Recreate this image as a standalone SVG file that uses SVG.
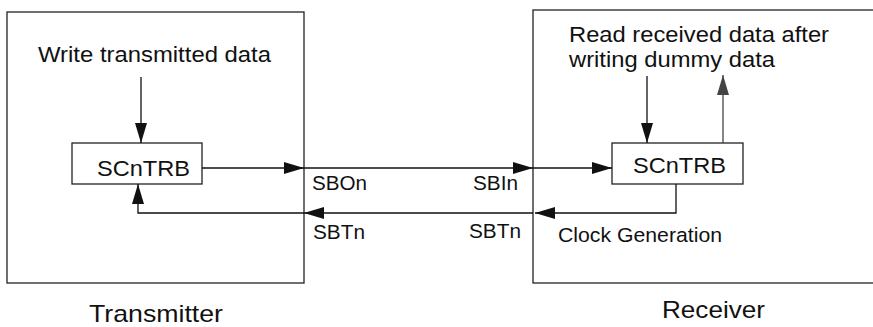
<svg xmlns="http://www.w3.org/2000/svg" width="873" height="327" viewBox="0 0 873 327">
<style>
.t{font-family:"Liberation Sans",Arial,sans-serif;fill:#111;}
.box{fill:none;stroke:#222;stroke-width:1.3;}
.ln{fill:none;stroke:#111;stroke-width:1.3;}
.gl{fill:none;stroke:#444;stroke-width:1.3;}
</style>
<defs>
<marker id="ah" markerUnits="userSpaceOnUse" markerWidth="22" markerHeight="12" refX="20" refY="6" orient="auto">
<path d="M0,0 L20,6 L0,12 Z" fill="#111"/>
</marker>
<marker id="ahg" markerUnits="userSpaceOnUse" markerWidth="22" markerHeight="12" refX="20" refY="6" orient="auto">
<path d="M0,0 L20,6 L0,12 Z" fill="#444"/>
</marker>
</defs>
<rect width="873" height="327" fill="#fff"/>
<g id="transmitter">
<rect class="box" x="7" y="12" width="297" height="271"/>
<text class="t" x="89" y="322" font-size="24" textLength="134" lengthAdjust="spacingAndGlyphs">Transmitter</text>
</g>
<g id="receiver">
<rect class="box" x="533" y="10" width="360" height="273"/>
<text class="t" x="662" y="318" font-size="24" textLength="103" lengthAdjust="spacingAndGlyphs">Receiver</text>
</g>
<g id="write-label">
<text class="t" x="38" y="62" font-size="22.5" textLength="233" lengthAdjust="spacingAndGlyphs">Write transmitted data</text>
</g>
<g id="read-label">
<text class="t" x="569" y="42" font-size="22.5" textLength="260" lengthAdjust="spacingAndGlyphs">Read received data after</text>
<text class="t" x="569" y="67" font-size="22.5" textLength="206" lengthAdjust="spacingAndGlyphs">writing dummy data</text>
</g>
<g id="tx-scntrb">
<rect class="box" x="72" y="143" width="130" height="41"/>
<text class="t" x="97" y="176" font-size="22.5" textLength="93" lengthAdjust="spacingAndGlyphs">SCnTRB</text>
</g>
<g id="rx-scntrb">
<rect class="box" x="612" y="143" width="131" height="41"/>
<text class="t" x="633" y="173" font-size="22.5" textLength="93" lengthAdjust="spacingAndGlyphs">SCnTRB</text>
</g>
<g id="connectors">
<line class="ln" x1="141" y1="77" x2="141" y2="143" marker-end="url(#ah)"/>
<line class="ln" x1="202" y1="168" x2="304" y2="168" marker-end="url(#ah)"/>
<line class="ln" x1="304" y1="168" x2="533" y2="168" marker-end="url(#ah)"/>
<line class="ln" x1="533" y1="168" x2="612" y2="168" marker-end="url(#ah)"/>
<polyline class="ln" points="676,184 676,213 535,213" marker-end="url(#ah)"/>
<line class="ln" x1="533" y1="213" x2="304" y2="213" marker-end="url(#ah)"/>
<polyline class="ln" points="304,213 138,213 138,184" marker-end="url(#ah)"/>
<line class="ln" x1="647" y1="76" x2="647" y2="143" marker-end="url(#ah)"/>
<line class="gl" x1="723" y1="143" x2="723" y2="75" marker-end="url(#ahg)"/>
</g>
<g id="signal-labels">
<text class="t" x="312" y="190" font-size="20.5" textLength="55" lengthAdjust="spacingAndGlyphs">SBOn</text>
<text class="t" x="473" y="190" font-size="20.5" textLength="45" lengthAdjust="spacingAndGlyphs">SBIn</text>
<text class="t" x="313" y="239" font-size="20.5" textLength="52" lengthAdjust="spacingAndGlyphs">SBTn</text>
<text class="t" x="469" y="238" font-size="20.5" textLength="52" lengthAdjust="spacingAndGlyphs">SBTn</text>
<text class="t" x="558" y="242" font-size="20.5" textLength="164" lengthAdjust="spacingAndGlyphs">Clock Generation</text>
</g>
</svg>
